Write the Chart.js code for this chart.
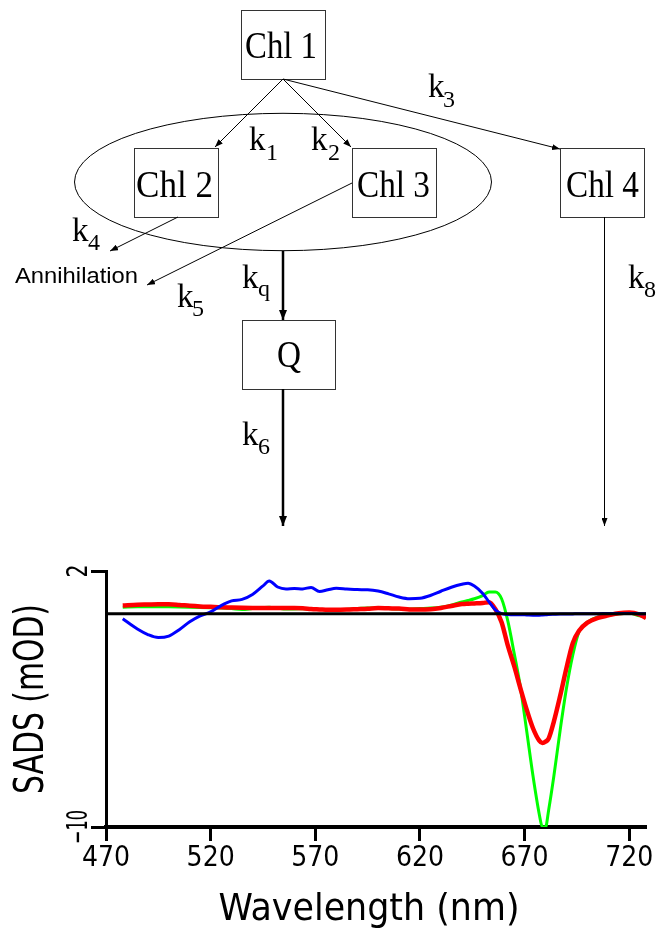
<!DOCTYPE html>
<html>
<head>
<meta charset="utf-8">
<title>SADS kinetic scheme</title>
<script src="https://cdn.jsdelivr.net/npm/chart.js@4.4.0/dist/chart.umd.min.js"></script>
<style>
  html, body { margin: 0; padding: 0; background: #fff; }
  #wrap { position: relative; width: 663px; height: 931px; }
  #chart { position: absolute; left: 0; top: 0; }
  #scheme { position: absolute; left: 0; top: 0; }
  #scheme text { fill: #000; }
  .serif { font-family: "Liberation Serif", "Times New Roman", serif; }
  .sans { font-family: "Liberation Sans", Arial, sans-serif; }
</style>
</head>
<body>
<div id="wrap">
  <canvas id="chart" width="663" height="931"></canvas>

  <!-- kinetic scheme -->
  <svg id="scheme" width="663" height="540" viewBox="0 0 663 540">
    <defs>
      <marker id="ah" markerWidth="8" markerHeight="6" refX="8" refY="3" orient="auto" markerUnits="userSpaceOnUse">
        <path d="M0,0 L8,3 L0,6 z" fill="#000"/>
      </marker>
      <marker id="ahb" markerWidth="10" markerHeight="8" refX="10" refY="4" orient="auto" markerUnits="userSpaceOnUse">
        <path d="M0,0 L10,4 L0,8 z" fill="#000"/>
      </marker>
    </defs>
    <g fill="none" stroke="#000">
      <ellipse cx="283" cy="182" rx="208.5" ry="68.7" stroke-width="1"/>
      <g stroke="#333" stroke-width="1">
        <rect x="241.5" y="10.5" width="84" height="69"/>
        <rect x="134.5" y="148.5" width="84" height="69"/>
        <rect x="352.5" y="148.5" width="84" height="69"/>
        <rect x="560.5" y="148.5" width="84" height="69"/>
        <rect x="242.5" y="320.5" width="93" height="69"/>
      </g>
      <g stroke-width="1" marker-end="url(#ah)">
        <line x1="283" y1="79" x2="215" y2="147"/>
        <line x1="283" y1="79" x2="351" y2="147"/>
        <line x1="283" y1="79" x2="560" y2="149"/>
        <line x1="178" y1="217" x2="110" y2="251"/>
        <line x1="352" y1="183" x2="147" y2="285"/>
        <line x1="604.5" y1="217" x2="604.5" y2="526"/>
      </g>
      <g stroke-width="2.5" marker-end="url(#ahb)">
        <line x1="283" y1="251" x2="283" y2="320"/>
        <line x1="283" y1="389" x2="283" y2="526"/>
      </g>
    </g>

    <g class="serif" font-size="38">
      <text x="245" y="58" textLength="72" lengthAdjust="spacingAndGlyphs">Chl 1</text>
      <text x="136" y="197" textLength="77" lengthAdjust="spacingAndGlyphs">Chl 2</text>
      <text x="357" y="197" textLength="73" lengthAdjust="spacingAndGlyphs">Chl 3</text>
      <text x="566" y="197" textLength="73" lengthAdjust="spacingAndGlyphs">Chl 4</text>
      <text x="277" y="367" textLength="24" lengthAdjust="spacingAndGlyphs">Q</text>
    </g>

    <g class="serif" font-size="33">
      <text x="249" y="150">k</text><text x="266" y="160" font-size="24">1</text>
      <text x="311" y="150">k</text><text x="328" y="160" font-size="24">2</text>
      <text x="428" y="97">k</text><text x="443" y="107" font-size="24">3</text>
      <text x="72" y="241">k</text><text x="88" y="250" font-size="24">4</text>
      <text x="177" y="307">k</text><text x="192" y="316" font-size="24">5</text>
      <text x="242" y="288">k</text><text x="258" y="296" font-size="24">q</text>
      <text x="242" y="445">k</text><text x="258" y="454" font-size="24">6</text>
      <text x="628" y="288">k</text><text x="644" y="297" font-size="24">8</text>
    </g>

    <text class="sans" x="15" y="283" font-size="22" textLength="123" lengthAdjust="spacingAndGlyphs">Annihilation</text>
  </svg>
</div>

<script>
// wavelength grid (nm) and species-associated difference spectra (mOD)
const wavelengths = [478, 485, 490, 495, 500, 505, 510, 515, 520, 525, 530, 535, 540, 545, 548, 552,
  556, 560, 564, 568, 572, 576, 580, 585, 590, 595, 600, 605, 610, 615, 620, 625, 630, 635, 640, 643,
  646, 650, 653, 656, 659, 662, 665, 668, 671, 674, 677, 678.5, 680, 681.5, 684, 687, 690, 693, 696,
  700, 705, 710, 715, 720, 725, 728];

const sadsBlue = [-0.24, -0.72, -0.98, -1.12, -1.05, -0.75, -0.38, -0.1, 0.08, 0.38, 0.6, 0.67, 0.9, 1.3, 1.53, 1.25,
  1.16, 1.18, 1.16, 1.23, 1.04, 1.12, 1.19, 1.16, 1.13, 1.12, 1.06, 0.93, 0.78, 0.7, 0.72, 0.85, 1.05, 1.24, 1.38, 1.43,
  1.3, 0.95, 0.55, 0.18, 0.0, -0.04, -0.05, -0.05, -0.06, -0.07, -0.07, -0.06, -0.05, -0.04, -0.03, -0.02, -0.02, -0.01, 0,
  0, 0, 0.01, 0.01, 0.01, 0, 0];

const sadsGreen = [0.3, 0.32, 0.33, 0.33, 0.32, 0.31, 0.3, 0.29, 0.28, 0.27, 0.24, 0.2, 0.24, 0.28, 0.3, 0.26,
  0.22, 0.22, 0.23, 0.21, 0.2, 0.18, 0.18, 0.2, 0.24, 0.26, 0.27, 0.24, 0.22, 0.22, 0.24, 0.26, 0.3, 0.4, 0.55, 0.62,
  0.7, 0.85, 1.02, 1.02, 0.7, -0.35, -1.85, -3.45, -5.5, -7.6, -9.4, -10, -10, -9.2, -7.6, -5.45, -3.5, -1.95, -0.85,
  -0.4, -0.15, -0.07, 0, 0.02, -0.1, -0.16];

const sadsRed = [0.38, 0.42, 0.43, 0.44, 0.44, 0.41, 0.37, 0.34, 0.32, 0.3, 0.29, 0.28, 0.27, 0.26, 0.26, 0.26,
  0.26, 0.26, 0.25, 0.22, 0.2, 0.18, 0.18, 0.19, 0.21, 0.23, 0.26, 0.25, 0.24, 0.2, 0.19, 0.21, 0.27, 0.36, 0.45, 0.47,
  0.48, 0.5, 0.54, 0.22, -0.4, -1.5, -2.45, -3.5, -4.5, -5.37, -5.95, -6.06, -6.0, -5.85, -5.05, -3.85, -2.55, -1.38, -0.8,
  -0.42, -0.2, -0.08, 0.02, 0.05, -0.05, -0.2];

// zero reference line
const baselineX = [470, 728];
const baselineY = [0, 0];

const xTicks = [470, 520, 570, 620, 670, 720];
const yTicks = [-10, 2];

const axisFont = '"DejaVu Sans Condensed", "DejaVu Sans", sans-serif';

const pts = (xs, ys) => xs.map((x, i) => ({ x: x, y: ys[i] }));

// rotated y tick labels + axis titles squeezed to the plotter-like width
function fitText(ctx, text, cx, cy, width, angle) {
  ctx.save();
  ctx.translate(cx, cy);
  ctx.rotate(angle);
  const w = ctx.measureText(text).width;
  ctx.scale(width / w, 1);
  ctx.fillText(text, 0, 0);
  ctx.restore();
}

const axisText = {
  id: 'axisText',
  afterDraw(chart) {
    const { ctx, scales: { y } } = chart;
    ctx.save();
    ctx.fillStyle = '#000';
    ctx.textAlign = 'center';
    ctx.textBaseline = 'alphabetic';

    ctx.font = '29px ' + axisFont;
    yTicks.forEach(v => {
      const label = v < 0 ? '\u2212' + Math.abs(v) : String(v);
      const w = v < 0 ? 34 : 13;
      fitText(ctx, label, 87, y.getPixelForValue(v), w, -Math.PI / 2);
    });

    ctx.font = '41px ' + axisFont;
    fitText(ctx, 'SADS (mOD)', 43, (y.top + y.bottom) / 2, 190, -Math.PI / 2);

    ctx.font = '38px ' + axisFont;
    fitText(ctx, 'Wavelength (nm)', 369, 920, 301, 0);
    ctx.restore();
  }
};

new Chart(document.getElementById('chart'), {
  type: 'line',
  data: {
    datasets: [
      { label: 'zero', data: pts(baselineX, baselineY), borderColor: '#000', borderWidth: 3 },
      { label: 'blue', data: pts(wavelengths, sadsBlue), borderColor: '#0000ff', borderWidth: 3 },
      { label: 'red', data: pts(wavelengths, sadsRed), borderColor: '#ff0000', borderWidth: 4.5 },
      { label: 'green', data: pts(wavelengths, sadsGreen), borderColor: '#00ff00', borderWidth: 3 }
    ]
  },
  options: {
    responsive: false,
    animation: false,
    devicePixelRatio: 1,
    layout: { padding: { top: 571, left: 86, right: 17, bottom: 0 } },
    plugins: { legend: { display: false }, tooltip: { enabled: false } },
    elements: {
      point: { radius: 0 },
      line: { cubicInterpolationMode: 'monotone', fill: false }
    },
    scales: {
      x: {
        type: 'linear', min: 470, max: 728,
        afterBuildTicks: s => { s.ticks = xTicks.map(v => ({ value: v })); },
        afterFit: s => { s.height = 104; },
        border: { color: '#000', width: 4 },
        grid: { drawOnChartArea: false, drawTicks: true, tickLength: 14, tickWidth: 3, color: '#000' },
        ticks: { color: '#000', font: { family: axisFont, size: 28 }, padding: 1, maxRotation: 0, autoSkip: false }
      },
      y: {
        type: 'linear', min: -10, max: 2,
        afterBuildTicks: s => { s.ticks = yTicks.map(v => ({ value: v })); },
        afterFit: s => { s.width = 20; },
        border: { color: '#000', width: 3 },
        grid: { drawOnChartArea: false, drawTicks: true, tickLength: 15, tickWidth: 3, color: '#000' },
        ticks: { display: false }
      }
    }
  },
  plugins: [axisText]
});
</script>
</body>
</html>
